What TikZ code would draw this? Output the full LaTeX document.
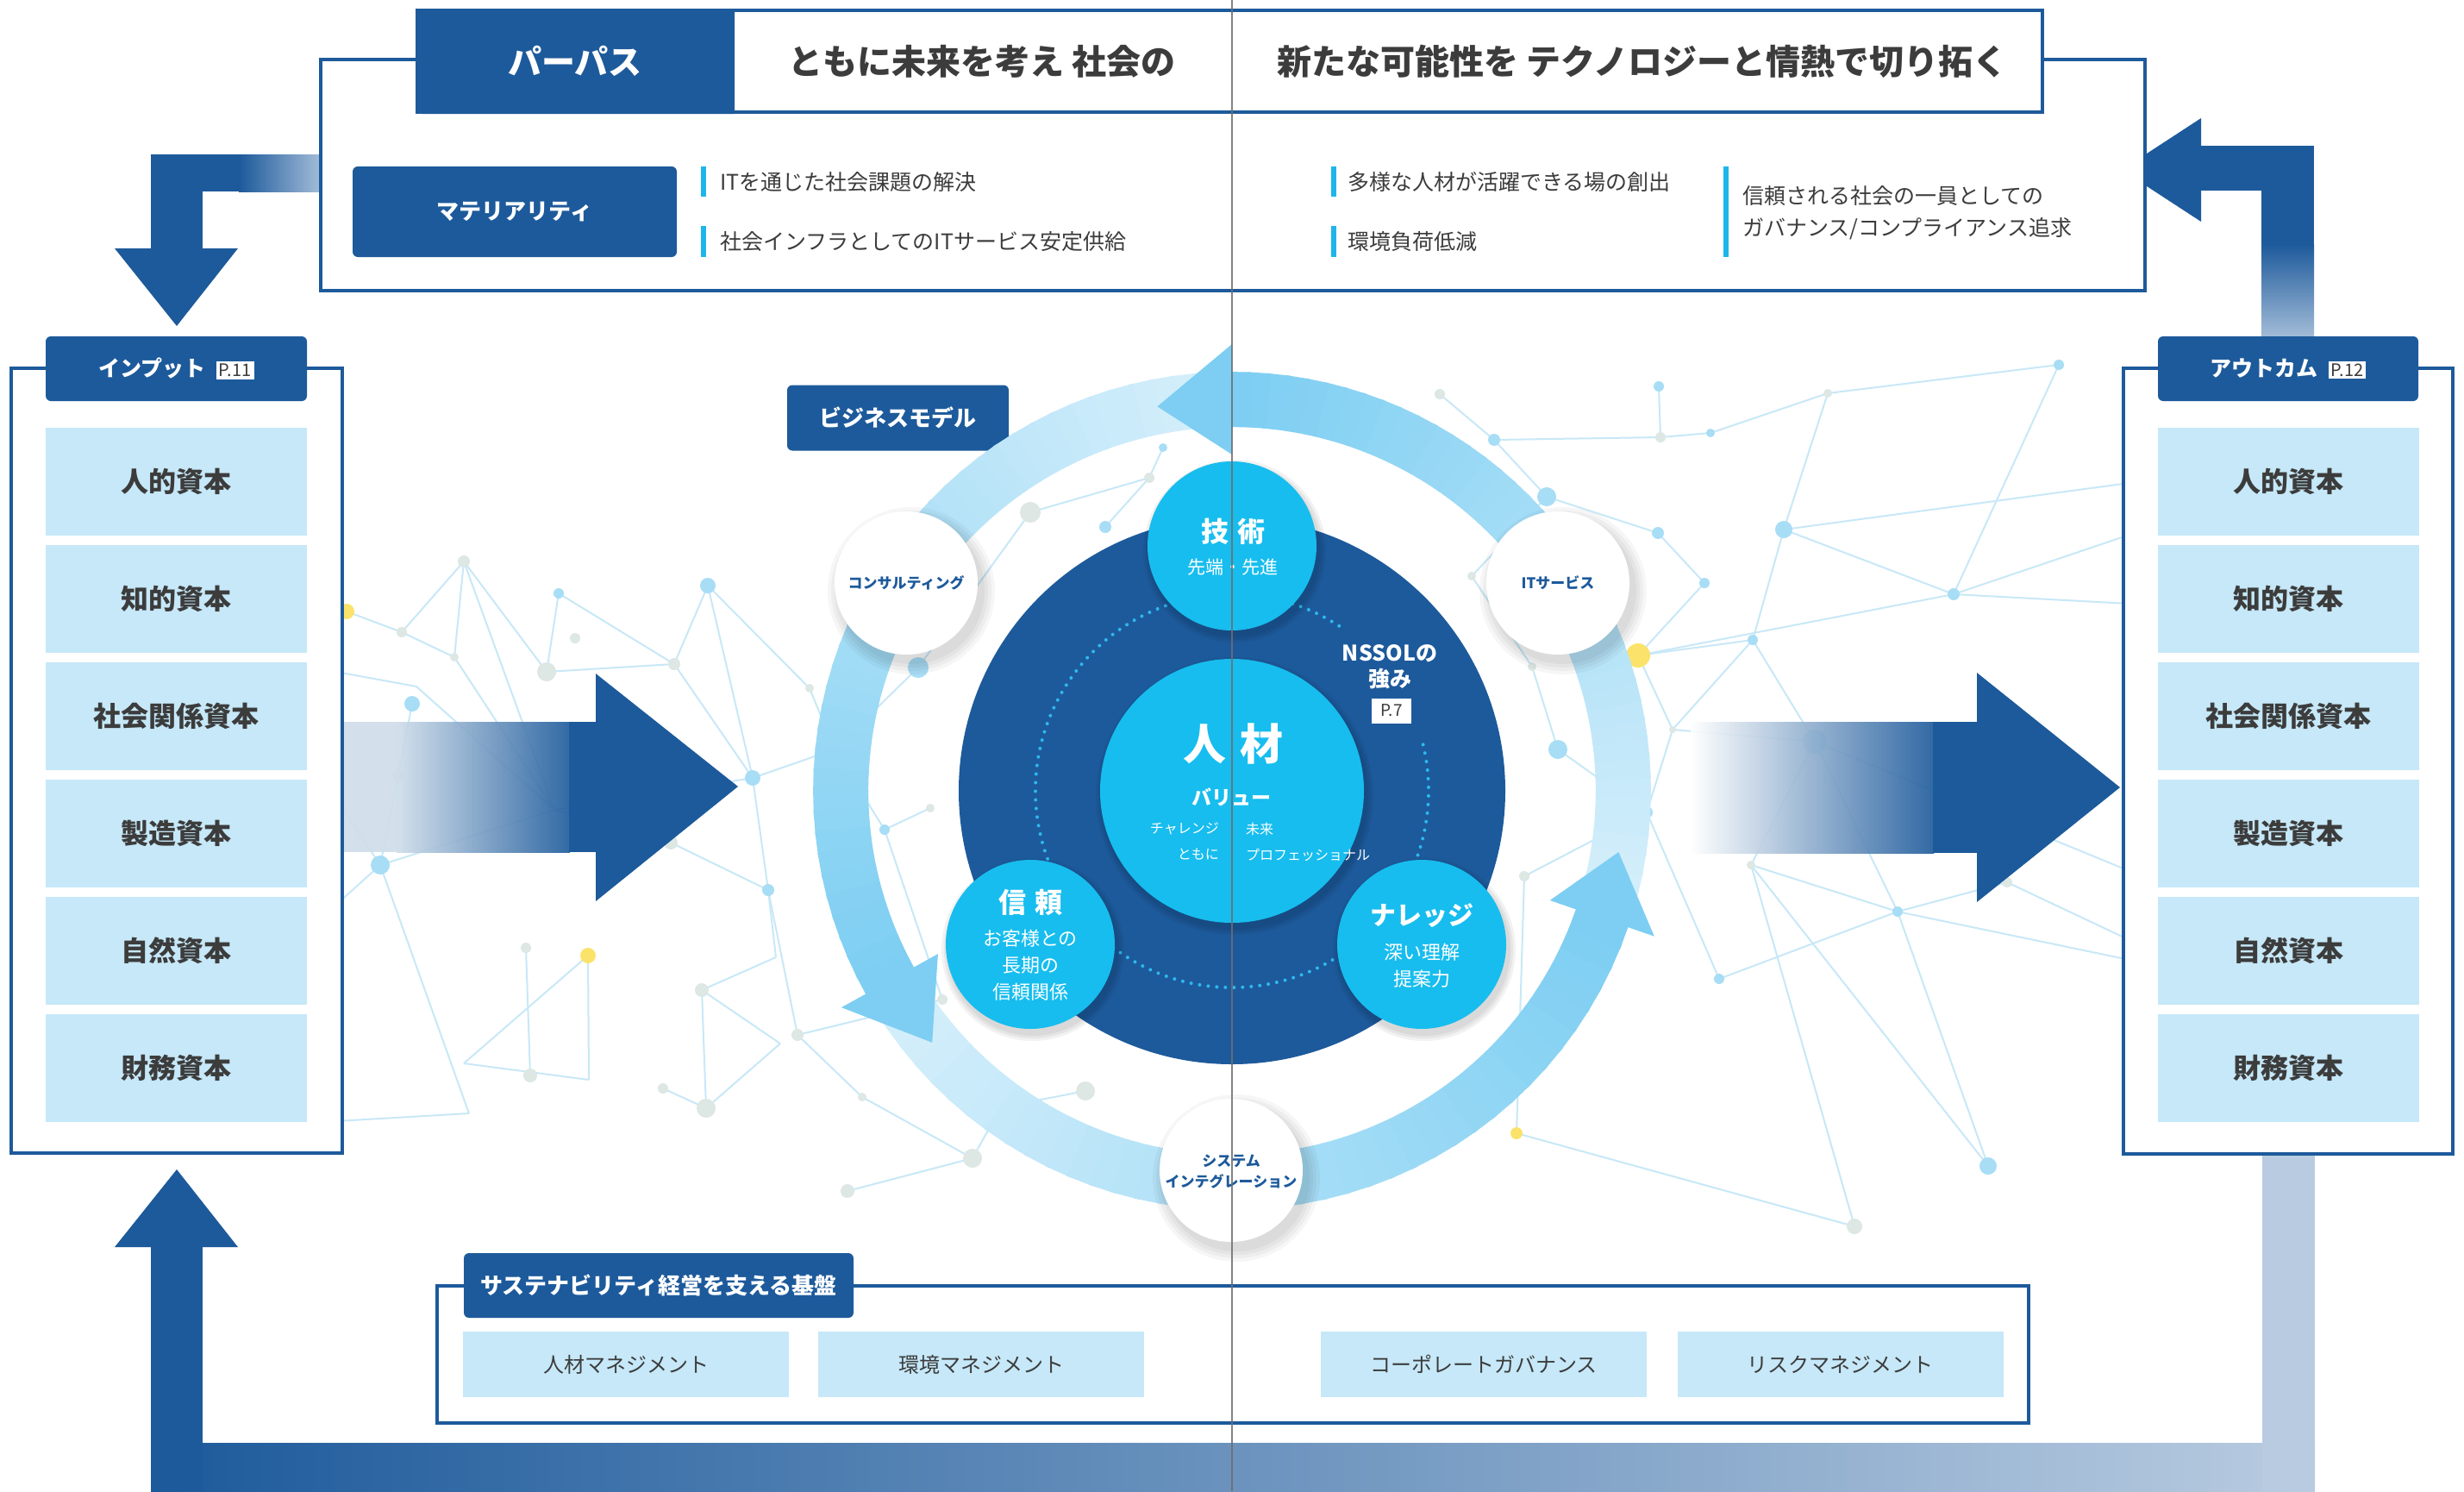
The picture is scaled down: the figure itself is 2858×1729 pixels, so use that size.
\documentclass[tikz,border=0pt]{standalone}
\usepackage{fontspec}
\setmainfont{Noto Sans CJK JP}
\usetikzlibrary{calc}

\definecolor{navy}{HTML}{1D5A9B}
\definecolor{navylt}{HTML}{B8CBE0}
\definecolor{arrowfade}{HTML}{A3BCD8}
\definecolor{midlt}{HTML}{CFDDEA}
\definecolor{paleblue}{HTML}{C6E8F8}
\definecolor{cyanc}{HTML}{17BDEE}
\definecolor{ringdk}{HTML}{7DCEF2}
\definecolor{ringlt}{HTML}{D6EFFB}
\definecolor{netline}{HTML}{C8E8F7}
\definecolor{netblue}{HTML}{A8DDF6}
\definecolor{netgray}{HTML}{DDE7E4}
\definecolor{netyellow}{HTML}{FBE36B}
\definecolor{txtgray}{HTML}{3C3C3C}
\definecolor{barcyan}{HTML}{1EB6EA}
\definecolor{foldgray}{HTML}{6E6E6E}
\definecolor{dotcyan}{HTML}{2EB8EE}

\newcommand\fsz[2]{\fontsize{#1}{#2}\selectfont}
\newcommand\pagetag[1]{\begingroup\setlength\fboxsep{3pt}\colorbox{white}{\normalfont\fsz{20}{22}\color{txtgray}#1}\endgroup}

\tikzset{
  frameline/.style={draw=navy, line width=4, fill=white},
  hdrbox/.style={fill=navy, rounded corners=6, inner sep=0, text=white, font=\fsz{25}{30}\bfseries},
  capbox/.style={fill=paleblue, anchor=north west, minimum width=303, minimum height=125, inner sep=0, text=txtgray, font=\fsz{32}{38}\bfseries},
  basebox/.style={fill=paleblue, minimum width=378, minimum height=76, inner sep=0, text=txtgray, font=\fsz{24}{28}},
  mattext/.style={anchor=west, inner sep=0, text=txtgray, font=\fsz{25}{30}},
  slogan/.style={inner sep=0, text=txtgray, font=\fsz{40}{46}\bfseries},
  wtext/.style={inner sep=0, text=white, align=center},
  svc/.style={inner sep=0, text=navy, align=center, font=\fsz{17}{24}\bfseries},
  net/.style={draw=netline, line width=2},
}

\begin{document}
\begin{tikzpicture}[x=1pt, y=-1pt]
\useasboundingbox (0,0) rectangle (2858,1729);
\fill[white] (0,0) rectangle (2858,1729);

% ---------- background network ----------
\foreach \n/\p in {L1/{402,709},L2/{466,733},L3/{538,651},L4/{527,762},L5/{648,688},L6/{667,740},
  L7/{634,779},L8/{821,679},L9/{782,770},L10/{478,816},L11/{462,899},L12/{441,1003},L13/{483,796},
  L14/{643,939},L15/{873,902},L16/{891,1032},L17/{778,977},L18/{610,1099},L19/{682,1108},
  L20/{538,1233},L21/{683,1252},L22/{615,1247},L23/{814,1148},L24/{819,1285},L25/{769,1262},
  L26/{544,1291},L27/{900,1110},L28/{905,1210},La/{390,779},Lb/{390,926},Lc/{390,1049},Ld/{390,1300},
  C1/{1065,774},C2/{968,869},C3/{1026,962},C4/{1079,937},C5/{939,798},C6/{1093,1159},C7/{925,1200},
  C8/{1000,1272},C9/{1259,1265},C10/{1161,1284},C11/{1128,1343},C12/{983,1381},C13/{1195,594},
  C14/{1282,611},C15/{1333,554},C16/{1349,519},
  R1/{1670,457},R2/{1733,510},R3/{1794,576},R4/{1924,448},R5/{1926,507},R6/{1984,502},R7/{1923,618},
  R8/{1977,676},R9/{1900,760},R10/{1807,869},R11/{1777,773},R12/{1707,668},R13/{1910,942},
  R14/{1768,1016},R15/{1994,1135},R16/{1759,1314},R17/{2033,742},R18/{1940,846},R19/{2105,860},
  R20/{2031,1003},R21/{2201,1057},R22/{2328,1023},R23/{2388,423},R24/{2120,456},R25/{2069,614},
  R26/{2266,689},R27/{2306,1352},R28/{2151,1422},
  E1/{2470,560},E2/{2470,700},E3/{2470,1090},E4/{2470,1113},E5/{2470,620},E6/{2470,1010}}
  {\coordinate (\n) at (\p);}

\foreach \a/\b in {L1/L2,L2/L3,L2/L4,L3/L4,L3/L7,L3/L14,L4/L14,L5/L7,L5/L9,L7/L9,L9/L8,L8/L15,L9/L15,
  La/L13,L13/L14,L10/L11,L11/L12,Lb/L12,Lc/L12,L12/L14,L12/L26,L14/L15,L15/L16,L16/L17,L14/L17,
  L19/L20,L19/L21,L20/L21,L23/L24,L23/L27,L23/L28,L24/L28,Ld/L26,L16/L27,L18/L22,L25/L24,
  L15/C2,C2/C1,C5/C2,C1/C13,C13/C15,C15/C16,C14/C15,C2/C3,C3/C4,C3/C6,C6/C7,C7/C8,C8/C11,
  C9/C10,C10/C11,L16/C7,C12/C11,L8/C5,
  R1/R2,R2/R3,R2/R5,R4/R5,R5/R6,R3/R12,R12/R11,R11/R10,R3/R7,R7/R8,R8/R9,R9/R17,R9/R18,R17/R18,
  R17/R19,R18/R19,R19/R20,R19/R21,R20/R21,R21/R22,R22/E3,R21/E4,R18/R13,R13/R14,R14/R16,R13/R15,
  R15/R21,R23/R26,R23/R24,R24/R25,R25/R26,R26/E2,R25/E1,R9/R26,R6/R24,R20/R27,R27/R21,R28/R20,
  R28/R16,R10/R13,R17/R25,R19/E6,R26/E5}
  {\draw[net] (\a) -- (\b);}

\foreach \n/\c/\r in {L1/netyellow/9,L2/netgray/6,L3/netgray/7,L4/netgray/5,L5/netblue/6,L6/netgray/6,
  L7/netgray/11,L8/netblue/9,L9/netgray/7,L10/netblue/9,L11/netgray/7,L12/netblue/11,L15/netblue/9,
  L16/netblue/7,L17/netgray/8,L18/netgray/6,L19/netyellow/9,L22/netgray/8,L23/netgray/8,L24/netgray/11,
  L25/netgray/6,C1/netblue/12,C2/netgray/11,C3/netblue/6,C4/netgray/5,C5/netgray/5,C6/netgray/6,
  C7/netgray/7,C8/netgray/5,C9/netgray/11,C10/netgray/9,C11/netgray/11,C12/netgray/8,C13/netgray/12,
  C14/netblue/7,C15/netgray/6,C16/netblue/5,
  R1/netgray/6,R2/netblue/7,R3/netblue/11,R4/netblue/6,R5/netgray/6,R6/netblue/5,R7/netblue/7,
  R8/netblue/6,R9/netyellow/14,R10/netblue/11,R11/netgray/5,R12/netgray/5,R13/netblue/7,R14/netgray/6,
  R15/netblue/6,R16/netyellow/7,R17/netblue/6,R18/netgray/4,R19/netblue/14,R20/netgray/5,
  R21/netblue/6,R22/netgray/6,R23/netblue/6,R24/netgray/5,R25/netblue/10,R26/netblue/7,
  R27/netblue/10,R28/netgray/9}
  {\fill[\c] (\n) circle (\r);}

% ---------- broad arrows into and out of the business model ----------
\begin{scope}[opacity=0.9]
  \fill[midlt] (395,837) rectangle (461,988);
  \shade[left color=midlt, right color=navy] (460,837) rectangle (661,988);
  \shade[left color=white, right color=navy] (1961,837) rectangle (2243,989);
\end{scope}
\fill[navy] (660,837) rectangle (692,988);
\fill[navy] (691,781) -- (691,1045) -- (856,912) -- cycle;
\fill[navy] (2242,837) rectangle (2294,989);
\fill[navy] (2293,780) -- (2293,1046) -- (2459,913) -- cycle;

% ---------- cycle arrows round the page ----------
% top left: purpose -> input
\fill[navy] (175,179) rectangle (278,222);
\shade[left color=navy, right color=arrowfade] (277,179) rectangle (372,222);
\fill[navy] (175,179) rectangle (235,289);
\fill[navy] (133,288) -- (276,288) -- (205,378) -- cycle;
% top right: outcome -> purpose
\fill[navy] (2553,169) rectangle (2684,221);
\fill[navy] (2623,169) rectangle (2684,284);
\shade[top color=navy, bottom color=arrowfade] (2623,283) rectangle (2684,391);
\fill[navy] (2553,137) -- (2553,257) -- (2461,197) -- cycle;
% bottom: outcome -> input
\shade[left color=navy, right color=navylt] (175,1673) rectangle (2685,1729);
\fill[navylt] (2624,1336) rectangle (2685,1729);
\fill[navy] (175,1446) rectangle (235,1729);
\fill[navy] (133,1446) -- (276,1446) -- (205,1356) -- cycle;

% ---------- purpose and materiality ----------
\draw[frameline] (372,69) rectangle (2488,337);
\draw[draw=navy, line width=4, fill=white] (484,12) rectangle (2369,130);
\fill[navy] (852,10) [rounded corners=8]-- (482,10) -- (482,132) [sharp corners]-- (852,132) -- cycle;
\node[wtext, font=\fsz{39}{44}\bfseries] (purpose) at (667,71) {パーパス};
\node[slogan] (slogan1) at (1139,71) {ともに未来を考え 社会の};
\node[slogan] (slogan2) at (1905,71) {新たな可能性を テクノロジーと情熱で切り拓く};

\node[hdrbox, minimum width=376, minimum height=105, font=\fsz{26}{30}\bfseries] (materiality) at (597,245.5) {マテリアリティ};
\fill[barcyan] (813,193) rectangle (819,228);
\fill[barcyan] (813,262) rectangle (819,298);
\fill[barcyan] (1544,193) rectangle (1550,228);
\fill[barcyan] (1544,262) rectangle (1550,298);
\fill[barcyan] (1999,193) rectangle (2005,298);
\node[mattext] (m1) at (835,211) {ITを通じた社会課題の解決};
\node[mattext] (m2) at (835,280) {社会インフラとしてのITサービス安定供給};
\node[mattext] (m3) at (1563,211) {多様な人材が活躍できる場の創出};
\node[mattext] (m4) at (1563,280) {環境負荷低減};
\node[mattext] (m5a) at (2021,227) {信頼される社会の一員としての};
\node[mattext] (m5b) at (2021,265) {ガバナンス/コンプライアンス追求};

% ---------- input and outcome ----------
\draw[frameline] (13,427) rectangle (397,1337);
\draw[frameline] (2463,427) rectangle (2845,1338);
\node[hdrbox, minimum width=303, minimum height=75] (input) at (204.5,427.5) {インプット\hspace{12pt}\pagetag{P.11}};
\node[hdrbox, minimum width=302, minimum height=75] (outcome) at (2654,427.5) {アウトカム\hspace{12pt}\pagetag{P.12}};
\foreach \t [count=\i from 0] in {人的資本,知的資本,社会関係資本,製造資本,自然資本,財務資本}{
  \node[capbox] (in\i) at (53,496+136*\i) {\t};
  \node[capbox] (out\i) at (2503,496+136*\i) {\t};
}

% ---------- foundation ----------
\draw[frameline] (507,1491) rectangle (2353,1650);
\node[hdrbox, minimum width=452, minimum height=75, font=\fsz{26}{30}\bfseries] (base) at (764,1490.5) {サステナビリティ経営を支える基盤};
\node[basebox] (b1) at (726,1582) {人材マネジメント};
\node[basebox] (b2) at (1138,1582) {環境マネジメント};
\node[basebox] (b3) at (1721,1582) {コーポレートガバナンス};
\node[basebox] (b4) at (2134.5,1582) {リスクマネジメント};

% ---------- business model ----------
\node[hdrbox, minimum width=257, minimum height=76, font=\fsz{26}{30}\bfseries] (bm) at (1041.5,484.5) {ビジネスモデル};

\begin{scope}[shift={(1429,917)}]
  % value-creation ring, shaded along each arc
  \foreach \ts/\te in {343/450, 92/209, 211/341}{
    \foreach \k in {0,...,39}{
      \pgfmathsetmacro\ta{\ts+(\te-\ts)*\k/40}
      \pgfmathsetmacro\tb{\ts+(\te-\ts)*(\k+1.2)/40}
      \pgfmathtruncatemacro\pc{100-100*\k/39}
      \fill[ringlt!\pc!ringdk] (-\ta:422) -- (-\ta:486) -- (-\tb:486) -- (-\tb:422) -- cycle;
    }
  }
  \fill[ringdk] (-90:390) -- (-90:518) -- (-101:454) -- cycle;
  \fill[ringdk] (-209:390) -- (-209:518) -- (-220:454) -- cycle;
  \fill[ringdk] (-341:390) -- (-341:518) -- (-351:454) -- cycle;
  % core
  \fill[navy] (0,0) circle (317);
  \draw[dotcyan, line width=4, dash pattern=on 0pt off 10pt, line cap=round]
    (-57:228) arc[start angle=-57, end angle=-376, radius=228];
\end{scope}

% soft shadows
\foreach \x/\y/\r in {1429/633/98,1195/1095/98,1649/1095/98,1429/917/153}{
  \foreach \s in {2,5,8}{\fill[black, opacity=0.05] (\x+3,\y+6) circle (\r+\s);}
}
\foreach \x/\y in {1051/676,1807/676,1428/1357}{
  \foreach \s in {2,6,10,14}{\fill[black, opacity=0.035] (\x+6,\y+9) circle (83+\s);}
}

\node[circle, fill=cyanc, minimum size=306, inner sep=0] (jinzai) at (1429,917) {};
\node[circle, fill=cyanc, minimum size=196, inner sep=0] (gijutsu) at (1429,633) {};
\node[circle, fill=cyanc, minimum size=196, inner sep=0] (shinrai) at (1195,1095) {};
\node[circle, fill=cyanc, minimum size=196, inner sep=0] (knowledge) at (1649,1095) {};
\node[circle, fill=white, minimum size=166, inner sep=0] (consult) at (1051,676) {};
\node[circle, fill=white, minimum size=166, inner sep=0] (itsvc) at (1807,676) {};
\node[circle, fill=white, minimum size=166, inner sep=0] (si) at (1428,1357) {};

\node[wtext, font=\fsz{50}{56}\bfseries] (t1) at (1430,862) {人\hspace{16pt}材};
\node[wtext, font=\fsz{23}{28}\bfseries] (t2) at (1428,924) {バリュー};
\node[wtext, anchor=east, font=\fsz{16}{20}] (t3) at (1414,961) {チャレンジ};
\node[wtext, anchor=west, font=\fsz{16}{20}] (t4) at (1445,961) {未来};
\node[wtext, anchor=east, font=\fsz{16}{20}] (t5) at (1414,991) {ともに};
\node[wtext, anchor=west, font=\fsz{16}{20}] (t6) at (1445,991) {プロフェッショナル};

\node[wtext, font=\fsz{32}{36}\bfseries] (t7) at (1430,616) {技\hspace{10pt}術};
\node[wtext, font=\fsz{21}{26}] (t8) at (1430,658) {先端・先進};
\node[wtext, font=\fsz{32}{36}\bfseries] (t9) at (1195,1046) {信\hspace{10pt}頼};
\node[wtext, font=\fsz{22}{31}] (t10) at (1195,1119) {お客様との\\長期の\\信頼関係};
\node[wtext, font=\fsz{30}{34}\bfseries] (t11) at (1649,1062) {ナレッジ};
\node[wtext, font=\fsz{22}{31}] (t12) at (1649,1120) {深い理解\\提案力};
\node[wtext, font=\fsz{25}{30}\bfseries] (t13) at (1612,773) {NSSOLの\\強み};
\node[fill=white, text=txtgray, inner sep=0, minimum width=46, minimum height=29, font=\fsz{19}{20}] (p7) at (1614,824) {P.7};

\node[svc] (t14) at (1051,676) {コンサルティング};
\node[svc] (t15) at (1807,676) {ITサービス};
\node[svc] (t16) at (1428,1358) {システム\\インテグレーション};

% page gutter
\draw[foldgray, line width=2, opacity=0.85] (1429,0) -- (1429,1729);
\end{tikzpicture}
\end{document}
